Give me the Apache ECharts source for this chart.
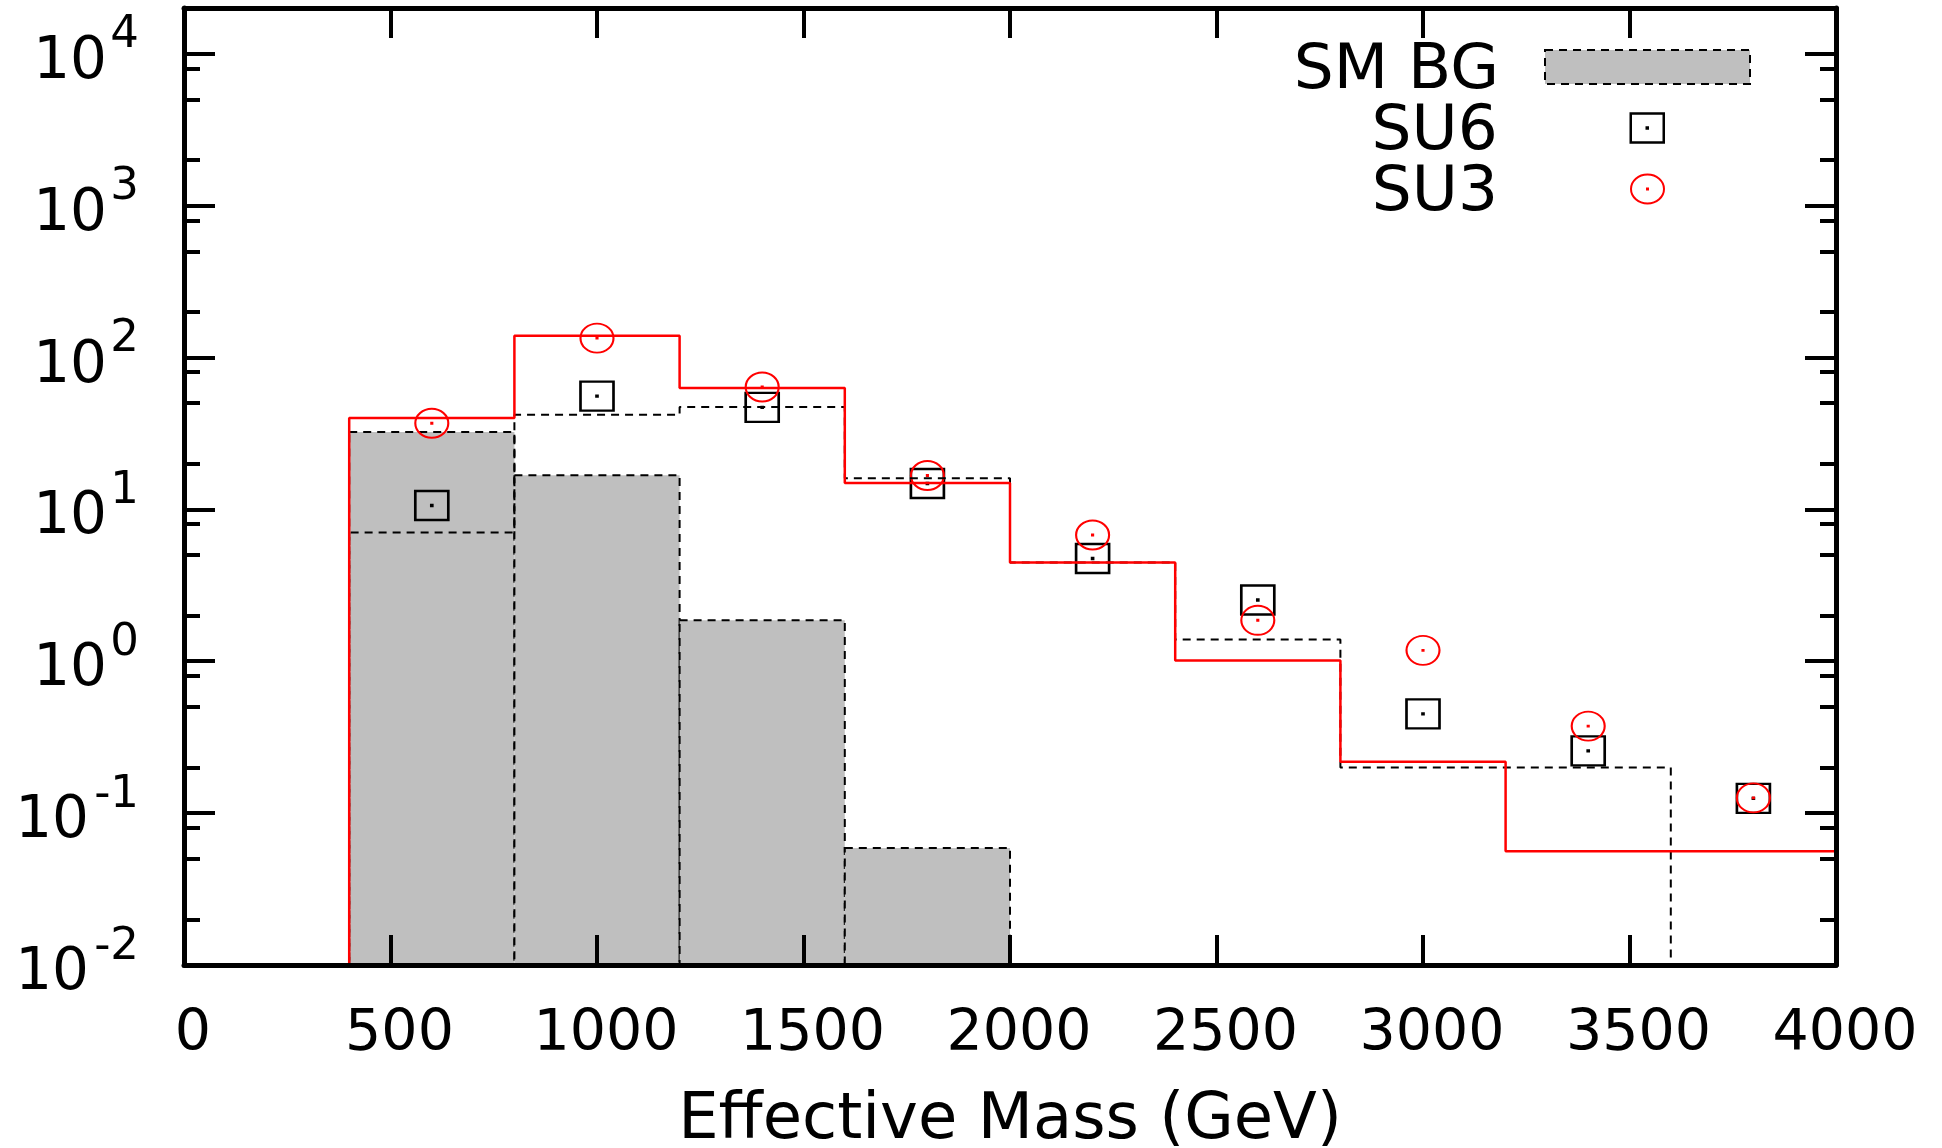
<!DOCTYPE html>
<html>
<head>
<meta charset="utf-8">
<script src="https://cdn.jsdelivr.net/npm/echarts@6/dist/echarts.min.js"></script>
<style>
html,body{margin:0;padding:0;background:#fff;}
#chart{width:1942px;height:1148px;}
</style>
</head>
<body>
<div id="chart"></div>
<script>
// ---- data ----
const binEdges   = [400, 800, 1200, 1600, 2000, 2400, 2800, 3200, 3600, 4000];
const binCenters = [600, 1000, 1400, 1800, 2200, 2600, 3000, 3400, 3800];
const smBG       = [32.3, 16.8, 1.86, 0.059, 0, 0, 0, 0, 0];
const su6Hist    = [7.05, 41.9, 47.2, 16.0, 4.47, 1.39, 0.200, 0.200, 0];
const su3Hist    = [39.9, 139, 63.0, 14.9, 4.47, 1.01, 0.218, 0.0561, 0.0561];
const su6Points  = [10.6, 55.6, 46.9, 14.8, 4.75, 2.53, 0.450, 0.257, 0.125];
const su3Points  = [36.9, 134, 63.9, 16.7, 6.78, 1.86, 1.18, 0.374, 0.126];
const xTicks     = [0, 500, 1000, 1500, 2000, 2500, 3000, 3500, 4000];
const yMajor     = [0.01, 0.1, 1, 10, 100, 1000, 10000];
const yMajorPos  = [1, 10, 100, 1000, 10000];   // labels 10^0 .. 10^4
const yMajorNeg  = [0.01, 0.1];                 // labels 10^-2, 10^-1
const yMinor     = [0.02, 0.05, 0.08, 0.2, 0.5, 0.8, 2, 5, 8, 20, 50, 80, 200, 500, 800, 2000, 5000, 8000];
const yMin = 0.01, yMax = 20000;

const FONT = 'DejaVu Sans';

function stepData(vals) {
  let last = vals.length;
  while (last > 0 && vals[last - 1] === 0) last--;
  const d = [[binEdges[0], yMin]];
  for (let i = 0; i < last; i++) d.push([binEdges[i], vals[i]]);
  if (last < vals.length) d.push([binEdges[last], yMin]);
  else d.push([binEdges[last], vals[last - 1]]);
  return d;
}
const bgData = [];
smBG.forEach((v, i) => { if (v > 0) bgData.push([binEdges[i], binEdges[i + 1], v]); });
const su6Scatter = binCenters.map((x, i) => [x, su6Points[i]]);
const su3Scatter = binCenters.map((x, i) => [x, su3Points[i]]);

const squarePath = 'path://M0,0H33V29H0Z M16,14h1v1h-1Z';
const ellipsePath = 'path://M0,14.5A16.5,14.5,0,1,1,33,14.5A16.5,14.5,0,1,1,0,14.5Z M16,14h1v1h-1Z';

const axisLine = { show: true, onZero: false, lineStyle: { color: '#000', width: 5 } };
const hiddenLine = { show: true, onZero: false, lineStyle: { color: 'rgba(0,0,0,0)', width: 0 } };
const noLabel = { show: false };
const noTick = { show: false };
const majorTickY = { show: true, inside: true, length: 31, customValues: yMajor, lineStyle: { color: '#000', width: 4 } };
const minorTickY = { show: true, inside: true, length: 16, customValues: yMinor, lineStyle: { color: '#000', width: 4 } };
const xTick = { show: true, inside: true, length: 30, customValues: xTicks, lineStyle: { color: '#000', width: 4 } };

function yAxisBase(extra) {
  return Object.assign({
    type: 'log', logBase: 10, min: yMin, max: yMax, offset: 0,
    splitLine: { show: false }, z: 5
  }, extra);
}
function expOf(v) { return Math.round(Math.log10(v)); }

// legend text: a leading empty line nudges the text down to the icon's centre
const legendText = (padRight) => ({ fontFamily: FONT, fontSize: 63, lineHeight: 9, color: '#000', padding: [0, padRight, 0, 0] });
const legendFmt = (name) => '\n' + name;

const option = {
  backgroundColor: '#fff',
  animation: false,
  grid: { left: 184, right: 106, top: 8, bottom: 183, outerBoundsMode: 'none', containLabel: false },
  legend: [
    {
      data: [{ name: 'SM BG', icon: 'rect' }], orient: 'vertical', align: 'right', formatter: legendFmt,
      right: 191, top: 31, padding: 0, itemWidth: 205, itemHeight: 34, selectedMode: false,
      itemStyle: { color: '#bfbfbf', borderColor: '#000', borderWidth: 2, borderType: [8, 6] },
      textStyle: legendText(41)
    },
    {
      data: ['SU6'], orient: 'vertical', align: 'right', formatter: legendFmt,
      right: 277, top: 92, padding: 0, itemWidth: 33, itemHeight: 31, selectedMode: false,
      itemStyle: { color: 'rgba(0,0,0,0)', borderColor: '#000', borderWidth: 2.5 },
      textStyle: legendText(128)
    },
    {
      data: ['SU3'], orient: 'vertical', align: 'right', formatter: legendFmt,
      right: 277, top: 153, padding: 0, itemWidth: 33, itemHeight: 31, selectedMode: false,
      itemStyle: { color: 'rgba(0,0,0,0)', borderColor: '#ff0000', borderWidth: 2 },
      textStyle: legendText(128)
    }
  ],
  xAxis: [
    {
      type: 'value', position: 'bottom', min: 0, max: 4000, interval: 500, offset: 0,
      name: 'Effective Mass (GeV)', nameLocation: 'middle', nameGap: 124,
      nameTextStyle: { fontFamily: FONT, fontSize: 64, lineHeight: 64, color: '#000' },
      axisLine: axisLine, axisTick: xTick,
      axisLabel: {
        fontFamily: FONT, fontSize: 57, lineHeight: 57, color: '#000', margin: 42,
        padding: [0, 0, 0, 18], customValues: xTicks,
        formatter: function (v) { return String(v); }
      },
      splitLine: { show: false }, z: 5
    },
    {
      type: 'value', position: 'top', min: 0, max: 4000, interval: 500, offset: 0,
      axisLine: axisLine, axisTick: xTick, axisLabel: noLabel,
      splitLine: { show: false }, z: 5
    }
  ],
  yAxis: [
    // frame + major / minor ticks
    yAxisBase({ position: 'left', axisLine: axisLine, axisTick: majorTickY, axisLabel: noLabel }),
    yAxisBase({ position: 'left', axisLine: hiddenLine, axisTick: minorTickY, axisLabel: noLabel }),
    yAxisBase({ position: 'right', axisLine: axisLine, axisTick: majorTickY, axisLabel: noLabel }),
    yAxisBase({ position: 'right', axisLine: hiddenLine, axisTick: minorTickY, axisLabel: noLabel }),
    // tick labels: mantissa "10" (non-negative exponents); leading empty line moves it slightly down
    yAxisBase({
      position: 'left', axisLine: hiddenLine, axisTick: noTick,
      axisLabel: {
        customValues: yMajorPos, margin: 77, fontFamily: FONT, fontSize: 58, lineHeight: 18,
        color: '#000', formatter: function () { return '\n10'; }
      }
    }),
    // tick labels: mantissa "10" (negative exponents)
    yAxisBase({
      position: 'left', axisLine: hiddenLine, axisTick: noTick,
      axisLabel: {
        customValues: yMajorNeg, margin: 95, fontFamily: FONT, fontSize: 58, lineHeight: 18,
        color: '#000', formatter: function () { return '\n10'; }
      }
    }),
    // tick labels: exponents, raised as superscripts by a trailing empty line
    yAxisBase({
      position: 'left', axisLine: hiddenLine, axisTick: noTick,
      axisLabel: {
        customValues: yMajor, margin: 45, fontFamily: FONT, fontSize: 45, lineHeight: 36,
        color: '#000', formatter: function (v) { return String(expOf(v)) + '\n'; }
      }
    })
  ],
  series: [
    {
      name: 'SM BG', type: 'custom', xAxisIndex: 0, yAxisIndex: 0,
      data: bgData, encode: { x: [0, 1], y: 2 }, clip: true,
      itemStyle: { color: '#bfbfbf', borderColor: '#000', borderWidth: 2 },
      renderItem: function (params, api) {
        const p0 = api.coord([api.value(0), api.value(2)]);
        const p1 = api.coord([api.value(1), yMin]);
        return {
          type: 'rect',
          shape: { x: p0[0], y: p0[1], width: p1[0] - p0[0], height: p1[1] - p0[1] },
          style: { fill: '#bfbfbf', stroke: '#000', lineWidth: 2, lineDash: [8, 6] }
        };
      }
    },
    {
      name: 'SU6 histogram', type: 'line', step: 'end', data: stepData(su6Hist),
      showSymbol: false, symbol: 'none', clip: true,
      lineStyle: { color: '#000', width: 2, type: [8, 6] }, itemStyle: { color: '#000' }
    },
    {
      name: 'SU3 histogram', type: 'line', step: 'end', data: stepData(su3Hist),
      showSymbol: false, symbol: 'none', clip: true,
      lineStyle: { color: '#ff0000', width: 2.5 }, itemStyle: { color: '#ff0000' }
    },
    {
      name: 'SU6', type: 'scatter', data: su6Scatter, symbol: squarePath, symbolSize: [33, 29],
      itemStyle: { color: 'rgba(0,0,0,0)', borderColor: '#000', borderWidth: 2.5, opacity: 1 }
    },
    {
      name: 'SU3', type: 'scatter', data: su3Scatter, symbol: ellipsePath, symbolSize: [33, 29],
      itemStyle: { color: 'rgba(0,0,0,0)', borderColor: '#ff0000', borderWidth: 2, opacity: 1 }
    }
  ]
};

const chart = echarts.init(document.getElementById('chart'), null, { renderer: 'canvas' });
chart.setOption(option);
</script>
</body>
</html>
